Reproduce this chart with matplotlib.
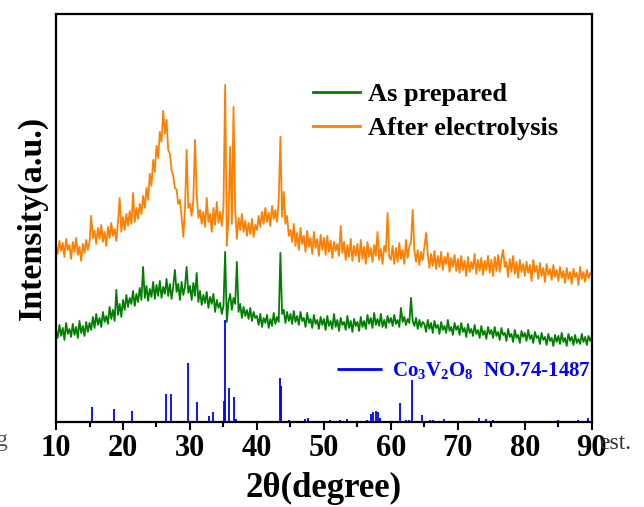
import numpy as np
import matplotlib
matplotlib.use("Agg")
import matplotlib.pyplot as plt

plt.rcParams["font.family"] = ["Liberation Serif", "DejaVu Serif"]
plt.rcParams["font.weight"] = "bold"
plt.rcParams["mathtext.fontset"] = "custom"
plt.rcParams["mathtext.rm"] = "Liberation Serif:bold"
plt.rcParams["mathtext.it"] = "Liberation Serif:bold"
plt.rcParams["mathtext.bf"] = "Liberation Serif:bold"

# 2-theta grid, 0.25 degree step
two_theta = np.arange(10, 90.001, 0.25)

# After electrolysis (orange)
after_electrolysis = [
    176, 168, 181, 171, 179, 165, 183, 172, 177, 163, 180, 170, 184, 167, 175, 161, 178, 169, 182, 172,
    180, 206, 184, 191, 178, 194, 183, 197, 180, 190, 176, 195, 184, 199, 186, 193, 181, 200, 224, 190,
    205, 192, 208, 196, 211, 198, 229, 200, 214, 203, 218, 208, 226, 214, 234, 222, 248, 236, 262, 250,
    276, 264, 290, 280, 311, 288, 302, 272, 268, 252, 246, 234, 232, 218, 222, 205, 185, 212, 272, 214,
    218, 206, 222, 282, 228, 204, 212, 198, 210, 195, 224, 200, 208, 190, 214, 197, 220, 199, 210, 196,
    215, 337, 176, 205, 275, 198, 315, 212, 183, 204, 192, 208, 190, 201, 186, 199, 188, 203, 185, 197,
    192, 206, 195, 210, 198, 214, 200, 209, 196, 216, 203, 212, 200, 222, 285, 205, 230, 198, 206, 186,
    192, 180, 198, 176, 189, 172, 194, 178, 186, 170, 191, 175, 184, 168, 190, 174, 183, 166, 187, 172,
    184, 167, 186, 170, 181, 164, 180, 171, 178, 166, 196, 169, 180, 162, 177, 165, 183, 161, 176, 166,
    178, 160, 182, 163, 175, 158, 180, 165, 174, 160, 177, 166, 190, 162, 173, 158, 176, 170, 209, 165,
    162, 176, 158, 174, 160, 179, 163, 172, 158, 182, 164, 175, 180, 212, 172, 160, 172, 157, 170, 162,
    175, 189, 168, 154, 168, 156, 171, 153, 166, 155, 170, 152, 165, 158, 169, 150, 164, 155, 167, 151,
    163, 149, 166, 152, 161, 146, 165, 150, 160, 153, 168, 148, 162, 151, 164, 147, 161, 152, 166, 149,
    162, 146, 165, 151, 167, 150, 163, 172, 155, 160, 145, 163, 150, 166, 148, 160, 144, 162, 150, 158,
    146, 160, 149, 157, 141, 162, 150, 156, 143, 159, 146, 154, 140, 158, 147, 153, 142, 157, 145, 152,
    141, 155, 144, 151, 139, 154, 143, 150, 138, 153, 145, 149, 137, 155, 143, 150, 140, 152, 144, 149,
    146,
]

# As prepared (green)
as_prepared = [
    92, 84, 97, 86, 94, 82, 99, 88, 93, 85, 98, 87, 95, 84, 101, 89, 96, 86, 100, 90,
    99, 92, 105, 94, 108, 97, 104, 95, 110, 100, 106, 98, 115, 103, 112, 101, 132, 107, 118, 105,
    122, 112, 127, 115, 124, 118, 131, 116, 128, 120, 134, 122, 155, 124, 136, 121, 133, 125, 140, 123,
    137, 126, 141, 124, 135, 128, 143, 126, 138, 123, 136, 152, 130, 138, 122, 140, 127, 135, 155, 129,
    136, 122, 139, 126, 149, 120, 131, 117, 127, 119, 130, 114, 125, 118, 128, 110, 122, 114, 119, 108,
    116, 170, 100, 120, 128, 112, 124, 118, 160, 110, 118, 104, 115, 106, 112, 103, 114, 101, 110, 104,
    106, 97, 108, 95, 104, 99, 107, 94, 103, 96, 109, 98, 105, 100, 169, 108, 112, 99, 110, 101,
    108, 98, 111, 100, 106, 97, 110, 101, 104, 95, 109, 99, 103, 94, 107, 98, 102, 93, 105, 97,
    103, 92, 106, 96, 101, 93, 108, 95, 102, 91, 104, 97, 100, 92, 106, 94, 101, 90, 103, 96,
    100, 91, 105, 95, 101, 93, 107, 98, 104, 94, 109, 97, 103, 96, 108, 95, 102, 94, 106, 99,
    104, 96, 107, 98, 102, 95, 114, 100, 105, 97, 103, 99, 124, 101, 96, 104, 93, 102, 95, 100,
    98, 90, 102, 93, 99, 89, 101, 94, 97, 88, 100, 92, 96, 89, 102, 91, 95, 87, 99, 92,
    96, 87, 99, 90, 94, 85, 98, 89, 93, 86, 97, 88, 92, 84, 96, 87, 91, 83, 95, 88,
    92, 84, 95, 86, 90, 82, 94, 87, 89, 81, 93, 85, 88, 80, 92, 84, 87, 79, 91, 85,
    89, 81, 92, 83, 87, 79, 90, 84, 86, 78, 89, 82, 85, 77, 88, 81, 84, 76, 87, 80,
    86, 78, 89, 80, 84, 76, 88, 81, 85, 77, 87, 79, 83, 78, 88, 80, 85, 77, 86, 81,
    85,
]

# Co3V2O8 reference card (NO.74-1487): stick positions and heights
ref_pos = [15.4, 18.7, 21.4, 26.4, 27.2, 29.65, 31.1, 32.9, 33.5, 35.1, 35.27, 35.9,
           36.57, 36.8, 37.9, 43.4, 43.6, 44.8, 47.2, 47.6, 50.9, 52.4, 53.4, 54.9,
           56.4, 57.0, 57.4, 57.8, 58.0, 58.4, 61.4, 62.3, 62.7, 63.2, 64.7, 65.8,
           66.3, 68.0, 69.8, 73.2, 74.2, 75.3, 78.2, 81.2, 85.0, 87.9, 89.4]
ref_int = [15, 13, 11, 28, 28, 59, 20, 6, 10, 21, 102, 34,
           25, 3, 1, 44, 36, 2, 3, 4, 2, 2, 3, 1,
           2, 8, 10, 11, 10, 4, 19, 2, 2, 42, 7, 2,
           2, 3, 1, 4, 3, 2, 1, 1, 2, 2, 4]

fig = plt.figure(figsize=(6.44, 5.07), dpi=100)
ax = fig.add_axes([0.087, 0.1677, 0.832, 0.805])

l_green, = ax.plot(two_theta, as_prepared, color="#008000", lw=1.3, label="As prepared")
l_orange, = ax.plot(two_theta, after_electrolysis, color="#FF8000", lw=1.3, label="After electrolysis")
sticks = ax.vlines(ref_pos, 0, ref_int, colors="#0000FF", lw=1.3,
                   label=r"Co$_3$V$_2$O$_8$  NO.74-1487")

ax.set_xlim(10, 90)
ax.set_ylim(0, 408)
ax.set_xticks(range(10, 91, 10))
ax.set_xticks(range(15, 90, 10), minor=True)
ax.set_yticks([])
ax.tick_params(axis="x", which="major", direction="out", length=6, width=1.5, labelsize=22, pad=3)
ax.tick_params(axis="x", which="minor", direction="out", length=3.5, width=1.5)
for sp in ax.spines.values():
    sp.set_linewidth(1.6)

ax.set_xlabel("2θ(degree)", fontsize=25, fontweight="bold", labelpad=6)
ax.set_ylabel("Intensity(a.u.)", fontsize=24.5, fontweight="bold", labelpad=6)

leg1 = ax.legend(handles=[l_green, l_orange], loc="center left", bbox_to_anchor=(0.4795, 0.761),
                 frameon=False, fontsize=19, handlelength=1.8, handletextpad=0.3,
                 labelspacing=0.4, borderpad=0, borderaxespad=0)
for h in leg1.get_lines():
    h.set_linewidth(2)
ax.add_artist(leg1)
leg2 = ax.legend(handles=[sticks], loc="center left", bbox_to_anchor=(0.524, 0.125),
                 frameon=False, fontsize=15, handlelength=2.15, handletextpad=0.48,
                 borderpad=0, borderaxespad=0)
for t in leg2.get_texts():
    t.set_color("#0000FF")
for h in leg2.legend_handles:
    h.set_linewidth(2)

# fragments of surrounding page text visible in the crop
fig.text(0.93, 0.115, "est.", fontsize=17, fontweight="normal", color="#333333", zorder=0)
fig.text(-0.006, 0.12, "g", fontsize=17, fontweight="normal", color="#555555", zorder=0)

fig.savefig("out.png", dpi=100)
